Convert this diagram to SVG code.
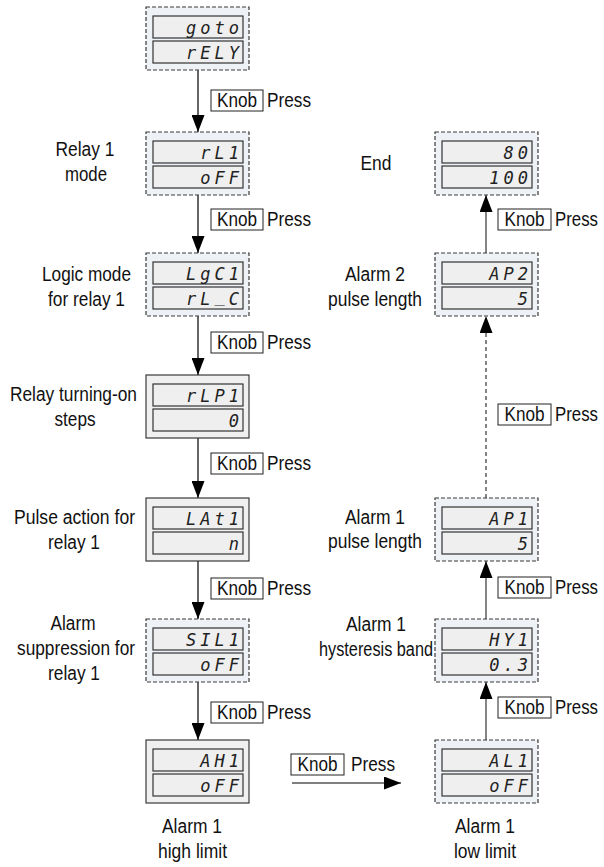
<svg xmlns="http://www.w3.org/2000/svg" width="604" height="867" viewBox="0 0 604 867">
<style>
.bd{fill:#eef1f5;stroke:#3a3a3a;stroke-width:1.2;stroke-dasharray:4 2}
.bs{fill:#f0f0f0;stroke:#3a3a3a;stroke-width:1.2}
.dp{fill:#efefef;stroke:#333;stroke-width:1.2}
.seg{font-family:"DejaVu Sans Mono",monospace;font-style:italic;font-size:17px;fill:#222;text-anchor:end;letter-spacing:4px}
.lbl{font-family:"Liberation Sans",Arial,sans-serif;font-size:19.5px;fill:#111;text-anchor:middle}
.kb{fill:#fff;stroke:#222;stroke-width:1}
.kt{font-family:"Liberation Sans",Arial,sans-serif;font-size:19.5px;fill:#111}
.ln{stroke:#000;stroke-width:1.2;fill:none}
.lg{stroke:#666;stroke-width:1.6;fill:none}
.dash{stroke-dasharray:4 3}
</style>
<defs>
<marker id="ah" markerUnits="userSpaceOnUse" markerWidth="17" markerHeight="13" refX="17" refY="6.5" orient="auto">
<path d="M0,0 L17,6.5 L0,13 Z" fill="#000"/>
</marker>
</defs>

<g id="connectors">
<line class="ln" x1="198" y1="70" x2="198" y2="132" marker-end="url(#ah)"/>
<line class="ln" x1="198" y1="195" x2="198" y2="253" marker-end="url(#ah)"/>
<line class="ln" x1="198" y1="316" x2="198" y2="375" marker-end="url(#ah)"/>
<line class="ln" x1="198" y1="438" x2="198" y2="498" marker-end="url(#ah)"/>
<line class="ln" x1="198" y1="561" x2="198" y2="619" marker-end="url(#ah)"/>
<line class="ln" x1="198" y1="682" x2="198" y2="740" marker-end="url(#ah)"/>
<line class="ln" x1="292" y1="783" x2="401" y2="783" marker-end="url(#ah)"/>
<line class="lg" x1="486" y1="740" x2="486" y2="682" marker-end="url(#ah)"/>
<line class="lg" x1="486" y1="619" x2="486" y2="561" marker-end="url(#ah)"/>
<line class="lg dash" x1="486" y1="498" x2="486" y2="316" marker-end="url(#ah)"/>
<line class="lg" x1="486" y1="253" x2="486" y2="195" marker-end="url(#ah)"/>
<g id="knob-labels">
<rect class="kb" x="211" y="90" width="52" height="21"/><text class="kt" x="217" y="107" textLength="40" lengthAdjust="spacingAndGlyphs">Knob</text><text class="kt" x="267" y="107" textLength="44" lengthAdjust="spacingAndGlyphs">Press</text>
<rect class="kb" x="211" y="209" width="52" height="21"/><text class="kt" x="217" y="226" textLength="40" lengthAdjust="spacingAndGlyphs">Knob</text><text class="kt" x="267" y="226" textLength="44" lengthAdjust="spacingAndGlyphs">Press</text>
<rect class="kb" x="211" y="332" width="52" height="21"/><text class="kt" x="217" y="349" textLength="40" lengthAdjust="spacingAndGlyphs">Knob</text><text class="kt" x="267" y="349" textLength="44" lengthAdjust="spacingAndGlyphs">Press</text>
<rect class="kb" x="211" y="453" width="52" height="21"/><text class="kt" x="217" y="470" textLength="40" lengthAdjust="spacingAndGlyphs">Knob</text><text class="kt" x="267" y="470" textLength="44" lengthAdjust="spacingAndGlyphs">Press</text>
<rect class="kb" x="211" y="578" width="52" height="21"/><text class="kt" x="217" y="595" textLength="40" lengthAdjust="spacingAndGlyphs">Knob</text><text class="kt" x="267" y="595" textLength="44" lengthAdjust="spacingAndGlyphs">Press</text>
<rect class="kb" x="211" y="702" width="52" height="21"/><text class="kt" x="217" y="719" textLength="40" lengthAdjust="spacingAndGlyphs">Knob</text><text class="kt" x="267" y="719" textLength="44" lengthAdjust="spacingAndGlyphs">Press</text>
<rect class="kb" x="291" y="754" width="53" height="21"/><text class="kt" x="297.5" y="771" textLength="40" lengthAdjust="spacingAndGlyphs">Knob</text><text class="kt" x="351" y="771" textLength="44" lengthAdjust="spacingAndGlyphs">Press</text>
<rect class="kb" x="498" y="697" width="53" height="21"/><text class="kt" x="504.5" y="714" textLength="40" lengthAdjust="spacingAndGlyphs">Knob</text><text class="kt" x="555" y="714" textLength="43" lengthAdjust="spacingAndGlyphs">Press</text>
<rect class="kb" x="498" y="577" width="53" height="21"/><text class="kt" x="504.5" y="594" textLength="40" lengthAdjust="spacingAndGlyphs">Knob</text><text class="kt" x="555" y="594" textLength="43" lengthAdjust="spacingAndGlyphs">Press</text>
<rect class="kb" x="498" y="404" width="53" height="21"/><text class="kt" x="504.5" y="421" textLength="40" lengthAdjust="spacingAndGlyphs">Knob</text><text class="kt" x="555" y="421" textLength="43" lengthAdjust="spacingAndGlyphs">Press</text>
<rect class="kb" x="498" y="209" width="53" height="21"/><text class="kt" x="504.5" y="226" textLength="40" lengthAdjust="spacingAndGlyphs">Knob</text><text class="kt" x="555" y="226" textLength="43" lengthAdjust="spacingAndGlyphs">Press</text>
</g>
</g>

<g id="n-goto">
<rect class="bd" x="146" y="7" width="103" height="63"/>
<rect class="dp" x="153" y="16" width="90" height="22"/>
<rect class="dp" x="153" y="41" width="90" height="22"/>
<text class="seg" x="243" y="34">goto</text>
<text class="seg" x="243" y="59">rELY</text>
</g>

<g id="n-rl1">
<rect class="bd" x="146" y="132" width="103" height="63"/>
<rect class="dp" x="153" y="141" width="90" height="22"/>
<rect class="dp" x="153" y="166" width="90" height="22"/>
<text class="seg" x="243" y="159">rL1</text>
<text class="seg" x="243" y="184">oFF</text>
<text class="lbl" x="85" y="156" textLength="59" lengthAdjust="spacingAndGlyphs">Relay 1</text>
<text class="lbl" x="86" y="181" textLength="42" lengthAdjust="spacingAndGlyphs">mode</text>
</g>

<g id="n-lgc1">
<rect class="bd" x="146" y="253" width="103" height="63"/>
<rect class="dp" x="153" y="262" width="90" height="22"/>
<rect class="dp" x="153" y="287" width="90" height="22"/>
<text class="seg" x="243" y="280">LgC1</text>
<text class="seg" x="243" y="305">rL<tspan dy="-3">_</tspan><tspan dy="3">C</tspan></text>
<text class="lbl" x="86.5" y="281" textLength="89" lengthAdjust="spacingAndGlyphs">Logic mode</text>
<text class="lbl" x="86.5" y="306" textLength="77" lengthAdjust="spacingAndGlyphs">for relay 1</text>
</g>

<g id="n-rlp1">
<rect class="bs" x="146" y="375" width="103" height="63"/>
<rect class="dp" x="153" y="384" width="90" height="22"/>
<rect class="dp" x="153" y="409" width="90" height="22"/>
<text class="seg" x="243" y="402">rLP1</text>
<text class="seg" x="243" y="427">0</text>
<text class="lbl" x="73.5" y="401" textLength="127" lengthAdjust="spacingAndGlyphs">Relay turning-on</text>
<text class="lbl" x="75" y="426" textLength="41" lengthAdjust="spacingAndGlyphs">steps</text>
</g>

<g id="n-lat1">
<rect class="bs" x="146" y="498" width="103" height="63"/>
<rect class="dp" x="153" y="507" width="90" height="22"/>
<rect class="dp" x="153" y="532" width="90" height="22"/>
<text class="seg" x="243" y="525">LAt1</text>
<text class="seg" x="243" y="550">n</text>
<text class="lbl" x="74.5" y="524" textLength="121" lengthAdjust="spacingAndGlyphs">Pulse action for</text>
<text class="lbl" x="74" y="549" textLength="52" lengthAdjust="spacingAndGlyphs">relay 1</text>
</g>

<g id="n-sil1">
<rect class="bd" x="146" y="619" width="103" height="63"/>
<rect class="dp" x="153" y="628" width="90" height="22"/>
<rect class="dp" x="153" y="653" width="90" height="22"/>
<text class="seg" x="243" y="646">SIL1</text>
<text class="seg" x="243" y="671">oFF</text>
<text class="lbl" x="73" y="630" textLength="45" lengthAdjust="spacingAndGlyphs">Alarm</text>
<text class="lbl" x="76" y="655" textLength="118" lengthAdjust="spacingAndGlyphs">suppression for</text>
<text class="lbl" x="74" y="680" textLength="52" lengthAdjust="spacingAndGlyphs">relay 1</text>
</g>

<g id="n-ah1">
<rect class="bs" x="146" y="740" width="103" height="63"/>
<rect class="dp" x="153" y="749" width="90" height="22"/>
<rect class="dp" x="153" y="774" width="90" height="22"/>
<text class="seg" x="243" y="767">AH1</text>
<text class="seg" x="243" y="792">oFF</text>
<text class="lbl" x="192" y="833" textLength="60" lengthAdjust="spacingAndGlyphs">Alarm 1</text>
<text class="lbl" x="192.5" y="858" textLength="69" lengthAdjust="spacingAndGlyphs">high limit</text>
</g>

<g id="n-al1">
<rect class="bd" x="435" y="740" width="103" height="63"/>
<rect class="dp" x="442" y="749" width="90" height="22"/>
<rect class="dp" x="442" y="774" width="90" height="22"/>
<text class="seg" x="532" y="767">AL1</text>
<text class="seg" x="532" y="792">oFF</text>
<text class="lbl" x="485" y="833" textLength="60" lengthAdjust="spacingAndGlyphs">Alarm 1</text>
<text class="lbl" x="485" y="858" textLength="62" lengthAdjust="spacingAndGlyphs">low limit</text>
</g>

<g id="n-hy1">
<rect class="bd" x="435" y="619" width="103" height="63"/>
<rect class="dp" x="442" y="628" width="90" height="22"/>
<rect class="dp" x="442" y="653" width="90" height="22"/>
<text class="seg" x="532" y="646">HY1</text>
<text class="seg" x="532" y="671">0.3</text>
<text class="lbl" x="376" y="631" textLength="60" lengthAdjust="spacingAndGlyphs">Alarm 1</text>
<text class="lbl" x="376" y="656" textLength="114" lengthAdjust="spacingAndGlyphs">hysteresis band</text>
</g>

<g id="n-ap1">
<rect class="bd" x="435" y="498" width="103" height="63"/>
<rect class="dp" x="442" y="507" width="90" height="22"/>
<rect class="dp" x="442" y="532" width="90" height="22"/>
<text class="seg" x="532" y="525">AP1</text>
<text class="seg" x="532" y="550">5</text>
<text class="lbl" x="375" y="524" textLength="60" lengthAdjust="spacingAndGlyphs">Alarm 1</text>
<text class="lbl" x="375" y="548" textLength="94" lengthAdjust="spacingAndGlyphs">pulse length</text>
</g>

<g id="n-ap2">
<rect class="bd" x="435" y="253" width="103" height="63"/>
<rect class="dp" x="442" y="262" width="90" height="22"/>
<rect class="dp" x="442" y="287" width="90" height="22"/>
<text class="seg" x="532" y="280">AP2</text>
<text class="seg" x="532" y="305">5</text>
<text class="lbl" x="375" y="281" textLength="60" lengthAdjust="spacingAndGlyphs">Alarm 2</text>
<text class="lbl" x="375" y="306" textLength="94" lengthAdjust="spacingAndGlyphs">pulse length</text>
</g>

<g id="n-end">
<rect class="bd" x="435" y="132" width="103" height="63"/>
<rect class="dp" x="442" y="141" width="90" height="22"/>
<rect class="dp" x="442" y="166" width="90" height="22"/>
<text class="seg" x="532" y="159">80</text>
<text class="seg" x="532" y="184">100</text>
<text class="lbl" x="376" y="170" textLength="31" lengthAdjust="spacingAndGlyphs">End</text>
</g>
</svg>
